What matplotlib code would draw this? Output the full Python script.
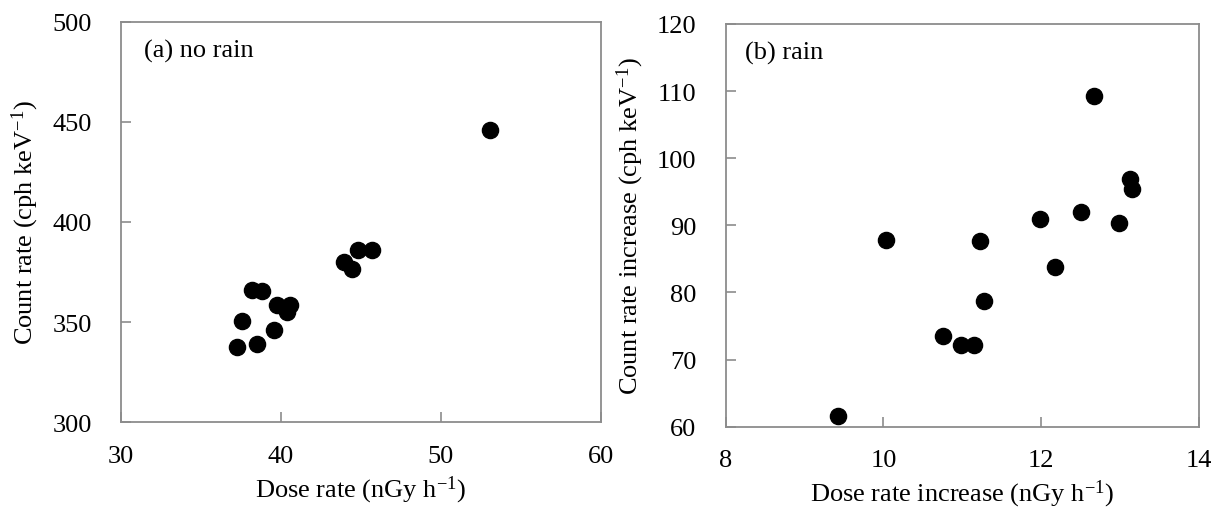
import matplotlib
matplotlib.use('Agg')
import matplotlib.pyplot as plt

# (a) no rain
dose_a = [37.23, 37.58, 38.18, 38.83, 38.51, 39.58, 39.78, 40.58, 40.36,
          43.96, 44.46, 44.79, 45.71, 53.09]
count_a = [337.4, 350.7, 366.1, 365.7, 338.9, 346.3, 358.6, 358.6, 354.9,
           379.9, 376.5, 386.2, 386.2, 446.1]

# (b) rain
dose_b = [9.42, 10.03, 10.75, 10.98, 11.15, 11.22, 11.27, 11.99, 12.17,
          12.50, 12.67, 12.98, 13.12, 13.15]
count_b = [61.6, 87.8, 73.5, 72.2, 72.2, 87.6, 78.7, 91.0, 83.8,
           92.0, 109.2, 90.3, 96.9, 95.4]

plt.rcParams['font.family'] = ['Liberation Serif', 'DejaVu Serif']
plt.rcParams['mathtext.fontset'] = 'custom'
plt.rcParams['mathtext.rm'] = 'Liberation Serif'
plt.rcParams['mathtext.it'] = 'Liberation Serif:italic'

FS = 19
SPINE = '#8c8c8c'

fig = plt.figure(figsize=(12.23, 5.10), dpi=100)
ax1 = fig.add_axes([0.0989, 0.170, 0.3925, 0.7855])
ax2 = fig.add_axes([0.5934, 0.1614, 0.387, 0.7896])


def style(ax):
    for s in ax.spines.values():
        s.set_color(SPINE)
        s.set_linewidth(1.3)
    ax.tick_params(direction='in', length=7, width=1.2, color=SPINE,
                   labelsize=FS)
    ax.tick_params(axis='x', pad=16)
    ax.tick_params(axis='y', pad=21)


ax1.scatter(dose_a, count_a, s=135, color='black', zorder=3)
ax1.set_xlim(30, 60)
ax1.set_ylim(300, 500)
ax1.set_xticks([30, 40, 50, 60])
ax1.set_yticks([300, 350, 400, 450, 500])
ax1.set_xlabel('Dose rate (nGy h$^{\\mathrm{-1}}$)', fontsize=FS, labelpad=5)
ax1.set_ylabel('Count rate (cph keV$^{\\mathrm{-1}}$)', fontsize=FS, labelpad=8)
ax1.text(0.048, 0.927, '(a) no rain', transform=ax1.transAxes,
         fontsize=FS, va='center', ha='left')
style(ax1)

ax2.scatter(dose_b, count_b, s=135, color='black', zorder=3)
ax2.set_xlim(8, 14)
ax2.set_ylim(60, 120)
ax2.set_xticks([8, 10, 12, 14])
ax2.set_yticks([60, 70, 80, 90, 100, 110, 120])
ax2.set_xlabel('Dose rate increase (nGy h$^{\\mathrm{-1}}$)', fontsize=FS, labelpad=5)
ax2.set_ylabel('Count rate increase (cph keV$^{\\mathrm{-1}}$)', fontsize=FS, labelpad=8)
ax2.text(0.041, 0.93, '(b) rain', transform=ax2.transAxes,
         fontsize=FS, va='center', ha='left')
style(ax2)

fig.savefig('out.png', dpi=100)
